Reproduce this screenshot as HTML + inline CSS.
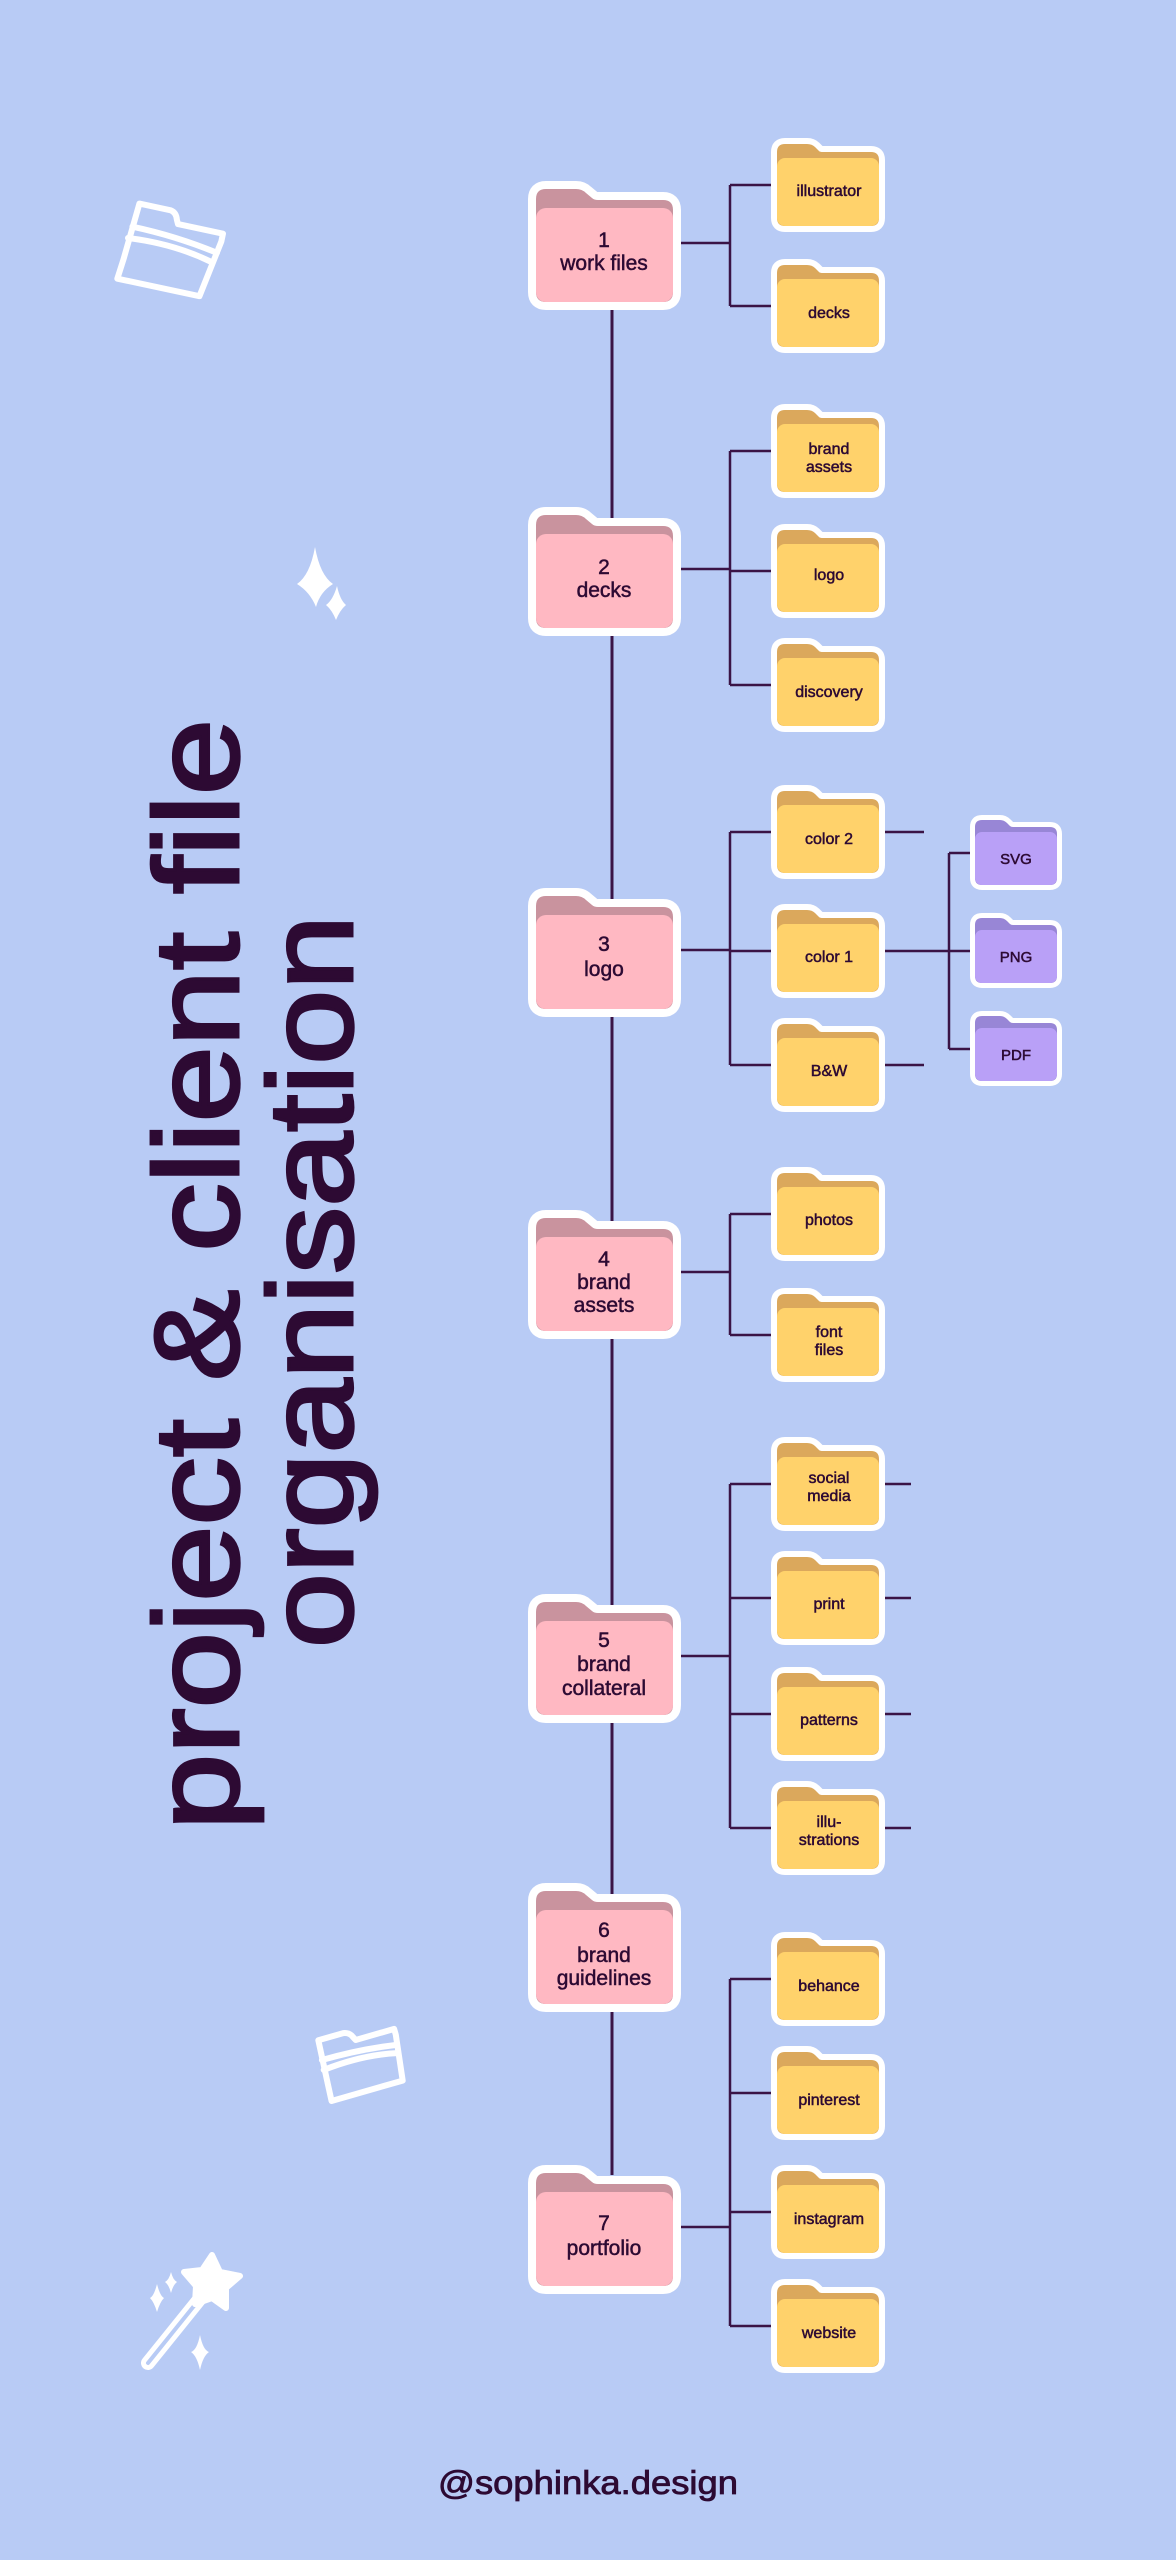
<!DOCTYPE html>
<html><head><meta charset="utf-8"><style>
html,body{margin:0;padding:0;background:#b8cbf5;}
svg{display:block}
text{font-family:"Liberation Sans",sans-serif;fill:#2d0a33;text-anchor:middle}
.lb{stroke:#2d0a33;stroke-width:0.5}
</style></head><body>
<svg width="1176" height="2560" viewBox="0 0 1176 2560" xmlns="http://www.w3.org/2000/svg">
<defs>
<symbol id="pk" viewBox="0 0 153 130" overflow="visible">
<path d="M8,19 Q8,9 18,9 L48,9 Q54,9 58,13 L64,18 Q66,20 70,20 L135,20 Q145,20 145,30 L145,112 Q145,122 135,122 L18,122 Q8,122 8,112 Z" fill="#fff" stroke="#fff" stroke-width="16" stroke-linejoin="round"/>
<path d="M8,19 Q8,9 18,9 L48,9 Q54,9 58,13 L64,18 Q66,20 70,20 L135,20 Q145,20 145,30 L145,112 Q145,122 135,122 L18,122 Q8,122 8,112 Z" fill="#c9939e"/>
<rect x="8" y="28" width="137" height="94" rx="10" fill="#ffb8c2"/>
</symbol>
<symbol id="yl" viewBox="0 0 114 95" overflow="visible">
<path d="M6,15 Q6,7 14,7 L36,7 Q41,7 44,10 L48,14 Q49,15 52,15 L100,15 Q108,15 108,23 L108,81 Q108,89 100,89 L14,89 Q6,89 6,81 Z" fill="#fff" stroke="#fff" stroke-width="12" stroke-linejoin="round"/>
<path d="M6,15 Q6,7 14,7 L36,7 Q41,7 44,10 L48,14 Q49,15 52,15 L100,15 Q108,15 108,23 L108,81 Q108,89 100,89 L14,89 Q6,89 6,81 Z" fill="#dba85c"/>
<rect x="6" y="21" width="102" height="68" rx="8" fill="#ffd26b"/>
</symbol>
<symbol id="pu" viewBox="0 0 92 75" overflow="visible">
<path d="M5,12 Q5,5 12,5 L30,5 Q34,5 37,8 L40,11 Q41,12 43,12 L80,12 Q87,12 87,19 L87,63 Q87,70 80,70 L12,70 Q5,70 5,63 Z" fill="#fff" stroke="#fff" stroke-width="10" stroke-linejoin="round"/>
<path d="M5,12 Q5,5 12,5 L30,5 Q34,5 37,8 L40,11 Q41,12 43,12 L80,12 Q87,12 87,19 L87,63 Q87,70 80,70 L12,70 Q5,70 5,63 Z" fill="#9886d6"/>
<rect x="5" y="17" width="82" height="53" rx="7" fill="#b9a0f7"/>
</symbol>
</defs>

<rect width="1176" height="2560" fill="#b8cbf5"/>

<!-- title -->
<text transform="translate(238,1830) rotate(-90)" x="0" y="0" style="text-anchor:start;font-size:120px;stroke:#2d0a33;stroke-width:3" textLength="1111" lengthAdjust="spacingAndGlyphs">project &amp; client file</text>
<text transform="translate(352,1648) rotate(-90)" x="0" y="0" style="text-anchor:start;font-size:120px;stroke:#2d0a33;stroke-width:3" textLength="733" lengthAdjust="spacingAndGlyphs">organisation</text>

<!-- decorations -->
<g fill="none" stroke="#fff" stroke-width="6" stroke-linecap="round" stroke-linejoin="round">
<g transform="translate(132,200) rotate(12)">
<path d="M8,2 L40,2 Q46,3 48,10 L50,14 L96,14 L96,22 L86,80 L2,80 L4,60 Z"/>
<path d="M6,26 Q50,26 94,34"/>
<path d="M4,38 Q50,34 90,44"/>
</g>
<g transform="translate(312,2040) rotate(-16)">
<path d="M6,2 L32,2 Q38,3 40,8 L42,12 L82,12 L82,18 L76,64 L2,64 L3,48 Z"/>
<path d="M4,22 Q44,22 80,28"/>
<path d="M3,32 Q44,28 78,36"/>
</g>
<path d="M148,2363 L202,2296" stroke-width="14"/>
</g>
<path d="M148,2363 L202,2296" stroke="#b8cbf5" stroke-width="4" stroke-linecap="round"/>
<g fill="#fff">
<path d="M315,547 Q320,575 333,584 Q320,592 316,607 Q310,592 297,584 Q310,575 315,547 Z"/>
<path d="M337,586 Q340,600 346,605 Q340,610 336,620 Q332,610 326,605 Q333,600 337,586 Z"/>
<path d="M212,2255 L220,2272 L240,2276 L226,2288 L226,2308 L212,2298 L195,2304 L196,2286 L184,2272 L202,2270 Z" stroke="#fff" stroke-width="6" stroke-linejoin="round"/>
<path d="M171,2272 Q173,2280 177,2282 Q173,2285 171,2293 Q169,2285 165,2282 Q169,2280 171,2272 Z"/>
<path d="M157,2284 Q160,2296 164,2298 Q160,2302 157,2312 Q154,2302 150,2298 Q154,2296 157,2284 Z"/>
<path d="M200,2335 Q203,2350 209,2352 Q203,2356 200,2370 Q197,2356 191,2352 Q197,2350 200,2335 Z"/>
</g>

<!-- connectors -->
<g stroke="#3a1446" stroke-width="2.5" fill="none">
<line x1="612" y1="300" x2="612" y2="2175" stroke-width="3"/>
<path d="M680,243 H730 M730,185 V306 M730,185 H773 M730,306 H773"/>
<path d="M680,569 H730 M730,451 V685 M730,451 H773 M730,571 H773 M730,685 H773"/>
<path d="M680,950 H730 M730,832 V1065 M730,832 H773 M730,951 H773 M730,1065 H773"/>
<path d="M885,832 H924 M885,1065 H924 M885,951 H970 M949,853 V1049 M949,853 H970 M949,1049 H970"/>
<path d="M680,1272 H730 M730,1214 V1335 M730,1214 H773 M730,1335 H773"/>
<path d="M680,1656 H730 M730,1484 V1828 M730,1484 H773 M730,1598 H773 M730,1714 H773 M730,1828 H773"/>
<path d="M885,1484 H911 M885,1598 H911 M885,1714 H911 M885,1828 H911"/>
<path d="M680,2227 H730 M730,1979 V2326 M730,1979 H773 M730,2093 H773 M730,2212 H773 M730,2326 H773"/>
</g>

<!-- pink folders -->
<g>
<use href="#pk" x="528" y="180" width="153" height="130"/>
<use href="#pk" x="528" y="506" width="153" height="130"/>
<use href="#pk" x="528" y="887" width="153" height="130"/>
<use href="#pk" x="528" y="1209" width="153" height="130"/>
<use href="#pk" x="528" y="1593" width="153" height="130"/>
<use href="#pk" x="528" y="1882" width="153" height="130"/>
<use href="#pk" x="528" y="2164" width="153" height="130"/>
</g>
<g style="font-size:21px" class="lb">
<text x="604" y="247">1</text><text x="604" y="270">work files</text>
<text x="604" y="574">2</text><text x="604" y="597">decks</text>
<text x="604" y="951">3</text><text x="604" y="976">logo</text>
<text x="604" y="1266">4</text><text x="604" y="1289">brand</text><text x="604" y="1312">assets</text>
<text x="604" y="1647">5</text><text x="604" y="1671">brand</text><text x="604" y="1695">collateral</text>
<text x="604" y="1937">6</text><text x="604" y="1962">brand</text><text x="604" y="1985">guidelines</text>
<text x="604" y="2230">7</text><text x="604" y="2255">portfolio</text>
</g>

<!-- yellow folders -->
<g>
<use href="#yl" x="771" y="137" width="114" height="95"/>
<use href="#yl" x="771" y="258" width="114" height="95"/>
<use href="#yl" x="771" y="403" width="114" height="95"/>
<use href="#yl" x="771" y="523" width="114" height="95"/>
<use href="#yl" x="771" y="637" width="114" height="95"/>
<use href="#yl" x="771" y="784" width="114" height="95"/>
<use href="#yl" x="771" y="903" width="114" height="95"/>
<use href="#yl" x="771" y="1017" width="114" height="95"/>
<use href="#yl" x="771" y="1166" width="114" height="95"/>
<use href="#yl" x="771" y="1287" width="114" height="95"/>
<use href="#yl" x="771" y="1436" width="114" height="95"/>
<use href="#yl" x="771" y="1550" width="114" height="95"/>
<use href="#yl" x="771" y="1666" width="114" height="95"/>
<use href="#yl" x="771" y="1780" width="114" height="95"/>
<use href="#yl" x="771" y="1931" width="114" height="95"/>
<use href="#yl" x="771" y="2045" width="114" height="95"/>
<use href="#yl" x="771" y="2164" width="114" height="95"/>
<use href="#yl" x="771" y="2278" width="114" height="95"/>
</g>
<g style="font-size:16px" class="lb">
<text x="829" y="196">illustrator</text>
<text x="829" y="318">decks</text>
<text x="829" y="454">brand</text><text x="829" y="472">assets</text>
<text x="829" y="580">logo</text>
<text x="829" y="697">discovery</text>
<text x="829" y="844">color 2</text>
<text x="829" y="962">color 1</text>
<text x="829" y="1076">B&amp;W</text>
<text x="829" y="1225">photos</text>
<text x="829" y="1337">font</text><text x="829" y="1355">files</text>
<text x="829" y="1483">social</text><text x="829" y="1501">media</text>
<text x="829" y="1609">print</text>
<text x="829" y="1725">patterns</text>
<text x="829" y="1827">illu-</text><text x="829" y="1845">strations</text>
<text x="829" y="1991">behance</text>
<text x="829" y="2105">pinterest</text>
<text x="829" y="2224">instagram</text>
<text x="829" y="2338">website</text>
</g>

<g>
<use href="#pu" x="970" y="815" width="92" height="75"/>
<use href="#pu" x="970" y="913" width="92" height="75"/>
<use href="#pu" x="970" y="1011" width="92" height="75"/>
</g>
<g style="font-size:15px" class="lb">
<text x="1016" y="864">SVG</text>
<text x="1016" y="962">PNG</text>
<text x="1016" y="1060">PDF</text>
</g>

<text x="588" y="2494" style="font-size:33px;stroke:#2d0a33;stroke-width:0.8" textLength="300" lengthAdjust="spacingAndGlyphs">@sophinka.design</text>
</svg>
</body></html>
